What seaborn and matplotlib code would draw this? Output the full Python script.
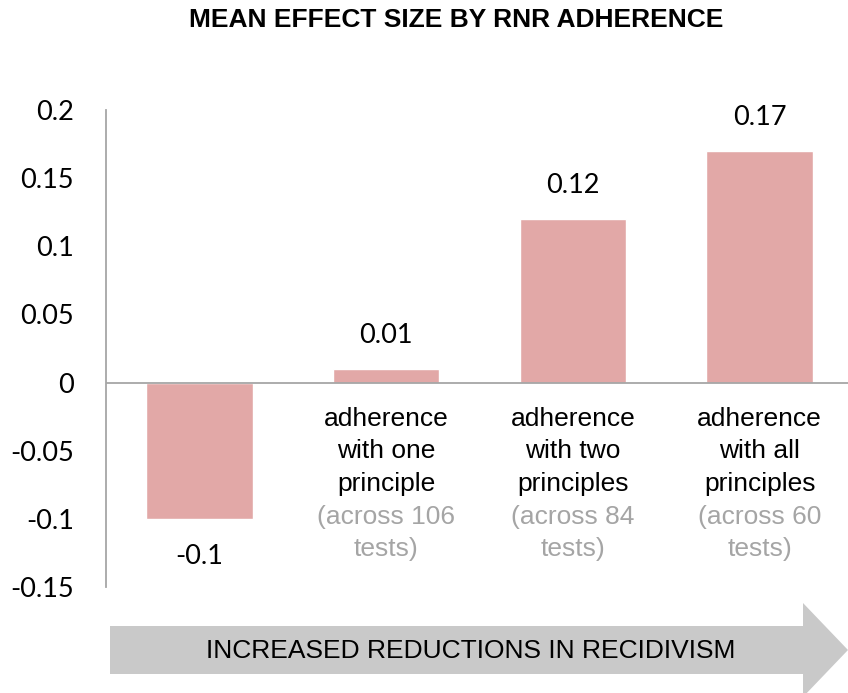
import matplotlib
matplotlib.use("Agg")
import matplotlib.pyplot as plt
from matplotlib.patches import Polygon
import pandas as pd
import seaborn as sns

groups = ["none", "one", "two", "all"]
effects = [-0.10, 0.01, 0.12, 0.17]
value_labels = ["-0.1", "0.01", "0.12", "0.17"]
group_labels = ["", "adherence\nwith one\nprinciple", "adherence\nwith two\nprinciples",
                "adherence\nwith all\nprinciples"]
test_counts = [None, 106, 84, 60]
y_ticks = [-0.15, -0.1, -0.05, 0, 0.05, 0.1, 0.15, 0.2]
y_tick_labels = ["-0.15", "-0.1", "-0.05", "0", "0.05", "0.1", "0.15", "0.2"]

BAR_COLOR = "#E2A8A7"
GRID_GRAY = "#A6A6A6"
ARROW_GRAY = "#C9C9C9"
NOTE_GRAY = "#A5A5A5"

sns.set_style("white")
plt.rcParams["font.family"] = ["Liberation Sans", "DejaVu Sans"]
plt.rcParams["text.color"] = "black"
plt.rcParams["ytick.color"] = "black"
plt.rcParams["ytick.labelcolor"] = "black"

df = pd.DataFrame({"group": groups, "effect": effects})

W, H = 848, 693
fig = plt.figure(figsize=(W / 100, H / 100), dpi=100)
ax = fig.add_axes([106 / W, 1 - 587 / H, 747 / W, 477 / H])

sns.barplot(data=df, x="group", y="effect", order=groups, color=BAR_COLOR,
            saturation=1, width=0.57, ax=ax)

ax.set_xlim(-0.5, 3.5)
ax.set_ylim(-0.15, 0.2)
ax.set_yticks(y_ticks)
ax.set_yticklabels(y_tick_labels, family="Lato", fontsize=19.5, color="black")
ax.tick_params(axis="y", length=0, pad=23)
ax.set_xticks([])
ax.set_xlabel("")
ax.set_ylabel("")

for side in ["top", "right", "bottom"]:
    ax.spines[side].set_visible(False)
ax.spines["left"].set_color(GRID_GRAY)
ax.spines["left"].set_linewidth(1.3)
ax.axhline(0, color=GRID_GRAY, linewidth=1.3, zorder=3)

# value labels above / below bars
for i, (v, lab) in enumerate(zip(effects, value_labels)):
    off = 24 if v >= 0 else -27
    ax.annotate(lab, (i, v), xytext=(0, off), textcoords="offset points",
                ha="center", va="center", family="Lato", fontsize=19.5, color="black")

# category labels under the zero line
line_pt = 23.5
for i, (lab, n) in enumerate(zip(group_labels, test_counts)):
    if not lab:
        continue
    lines = lab.split("\n")
    for k, line in enumerate(lines):
        ax.annotate(line, (i, 0), xytext=(0, -26 - k * line_pt), textcoords="offset points",
                    ha="center", va="center", fontsize=19, color="black")
    notes = [f"(across {n}", "tests)"]
    for k, line in enumerate(notes):
        ax.annotate(line, (i, 0), xytext=(0, -26 - (len(lines) + k) * line_pt),
                    textcoords="offset points", ha="center", va="center",
                    fontsize=19, color=NOTE_GRAY)

fig.text(456 / W, 1 - 20 / H, "MEAN EFFECT SIZE BY RNR ADHERENCE", ha="center", va="center",
         fontsize=19, fontweight="bold", color="black")

# bottom arrow
pts = [(110, 626), (803, 626), (803, 603), (848, 650), (803, 697), (803, 674), (110, 674)]
arrow = Polygon([(x / W, 1 - y / H) for x, y in pts], closed=True, transform=fig.transFigure,
                facecolor=ARROW_GRAY, edgecolor="none")
fig.patches.append(arrow)
fig.text(471 / W, 1 - 651 / H, "INCREASED REDUCTIONS IN RECIDIVISM", ha="center", va="center",
         fontsize=19, color="black")

fig.savefig("out.png", dpi=100)
